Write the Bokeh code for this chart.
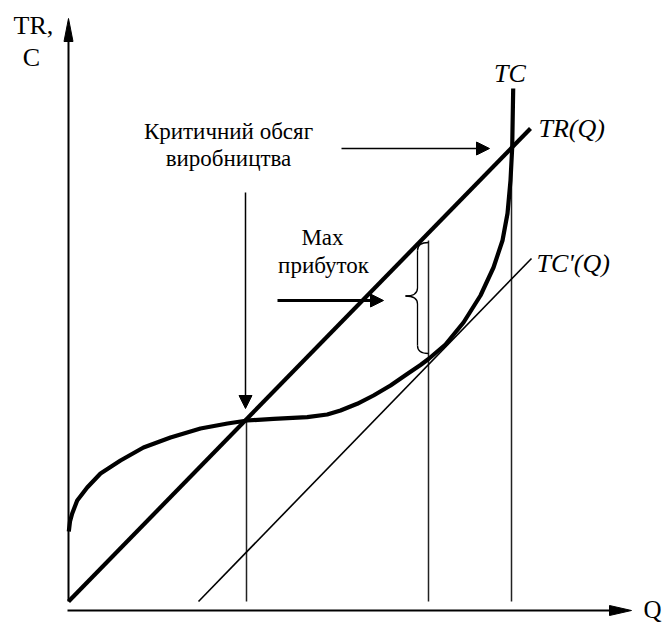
from bokeh.plotting import figure
from bokeh.models import Arrow, NormalHead, Range1d
from bokeh.core.properties import value
from bokeh.embed import file_html
from bokeh.resources import INLINE

# ---------------- data (units of the diagram) ----------------
# total cost curve TC(Q)
q_tc = [0.03, 0.15, 0.37, 0.87, 1.87, 3.2, 5.2, 7.5, 10.2, 13.2, 15.9, 17.87,
        20.5, 23.87, 25.87, 27.2, 28.87, 30.5, 32.2, 33.87, 35.2, 36.0, 37.7,
        39.5, 41.2, 42.5, 43.4, 43.9, 44.2, 44.37, 44.47]
tc = [7.0, 8.0, 8.8, 10.1, 11.4, 12.8, 14.1, 15.4, 16.4, 17.3, 17.8, 18.1,
      18.27, 18.43, 18.7, 19.1, 19.77, 20.6, 21.6, 22.75, 23.65, 24.25, 25.7,
      27.9, 30.6, 33.4, 36.1, 38.8, 42.1, 45.4, 51.3]
# total revenue TR(Q)
q_tr = [0.0, 46.2]
tr = [0.0, 47.3]
# parallel tangent line TC'(Q)
q_tcp = [13.0, 46.3]
tcp = [0.0, 34.3]
# characteristic volumes: critical, max profit, second critical
q_marks = [17.8, 36.0, 44.3]
mark_tops = [18.0, 36.1, 45.1]

# texts
axis_y_label = ["TR,", "C"]
axis_x_label = "Q"
crit_text = ["Критичний обсяг", "виробництва"]
max_text = ["Max", "прибуток"]
curve_labels = ["TC", "TR(Q)", "TC'(Q)"]

FONT = value("Liberation Serif")

p = figure(width=663, height=622,
           x_range=Range1d(-6.8, 59.5), y_range=Range1d(-2.1, 60.1),
           output_backend="svg", toolbar_location=None, min_border=0,
           x_axis_location=None, y_axis_location=None)
p.grid.visible = False
p.outline_line_color = None
p.background_fill_color = "white"
p.border_fill_color = "white"

# ---- axes drawn as arrows ----
p.segment(x0=[0.0], y0=[0.0], x1=[0.0], y1=[57.0], line_width=2, line_color="black")
p.patch(x=[-0.45, 0.0, 0.45], y=[56.0, 58.3, 56.0], fill_color="black", line_color="black")
p.segment(x0=[-0.1], y0=[-0.9], x1=[55.0], y1=[-0.9], line_width=2, line_color="black")
p.patch(x=[54.1, 56.3, 54.1], y=[-0.4, -0.9, -1.4], fill_color="black", line_color="black")

# ---- vertical guide lines ----
p.segment(x0=q_marks, y0=[0.0] * len(q_marks), x1=q_marks, y1=mark_tops,
          line_width=1.5, line_color="#222222")

# ---- curves ----
p.line(q_tcp, tcp, line_width=1.6, line_color="black")
p.line(q_tr, tr, line_width=4.2, line_color="black")
p.line(q_tc, tc, line_width=4.2, line_color="black", line_join="round")

# ---- brace showing max profit ----
xr = q_marks[1]
xb = xr - 1.1
xt = xr - 2.3
top, bot = 35.9, 24.8
mid = (top + bot) / 2 + 0.2
r = 0.8
p.quadratic(x0=[xr, xb, xt, xb], y0=[top, mid + r, mid, bot + r],
            x1=[xb, xt, xb, xr], y1=[top - r, mid, mid - r, bot],
            cx=[xb, xb, xb, xb], cy=[top, mid, mid, bot],
            line_width=1.3, line_color="black")
p.segment(x0=[xb, xb], y0=[top - r, mid - r], x1=[xb, xb], y1=[mid + r, bot + r],
          line_width=1.3, line_color="black")

# ---- arrows ----
p.add_layout(Arrow(end=NormalHead(size=13, fill_color="black", line_color="black"),
                   x_start=17.7, y_start=40.9, x_end=17.7, y_end=19.3,
                   line_width=1.5, line_color="black"))
p.add_layout(Arrow(end=NormalHead(size=13, fill_color="black", line_color="black"),
                   x_start=27.3, y_start=45.3, x_end=42.1, y_end=45.3,
                   line_width=1.5, line_color="black"))
p.add_layout(Arrow(end=NormalHead(size=13, fill_color="black", line_color="black"),
                   x_start=20.9, y_start=30.1, x_end=31.5, y_end=30.1,
                   line_width=3, line_color="black"))

# ---- texts ----
p.text(x=[16.0, 16.0], y=[47.0, 44.3], text=crit_text, text_font=FONT,
       text_font_size=value("23px"), text_align="center", text_baseline="middle",
       text_color="black")
p.text(x=[25.4, 25.5], y=[36.4, 33.6], text=max_text, text_font=FONT,
       text_font_size=value("23px"), text_align="center", text_baseline="middle",
       text_color="black")
p.text(x=[44.15], y=[52.8], text=[curve_labels[0]], text_font=FONT,
       text_font_size=value("26px"), text_font_style="italic", text_align="center",
       text_baseline="middle", text_color="black")
p.text(x=[47.0, 46.8], y=[47.3, 33.8], text=curve_labels[1:], text_font=FONT,
       text_font_size=value("26px"), text_font_style="italic", text_align="left",
       text_baseline="middle", text_color="black")
p.text(x=[-5.5], y=[57.6], text=[axis_y_label[0]], text_font=FONT,
       text_font_size=value("26px"), text_align="left", text_baseline="middle",
       text_color="black")
p.text(x=[-3.7], y=[54.4], text=[axis_y_label[1]], text_font=FONT,
       text_font_size=value("26px"), text_align="center", text_baseline="middle",
       text_color="black")
p.text(x=[57.5], y=[-0.8], text=[axis_x_label], text_font=FONT,
       text_font_size=value("25px"), text_align="left", text_baseline="middle",
       text_color="black")

open("out.html", "w").write(file_html(p, INLINE))
